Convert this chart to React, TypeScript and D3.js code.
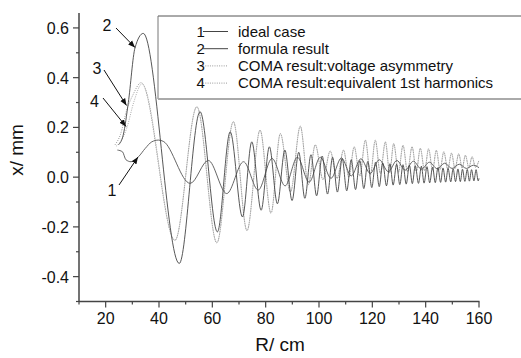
import * as d3 from 'd3';

// R (cm) / x (mm) pairs (extremes plus a few shape points)
const idealCase = [
  [24.4, 0.109], [26.3, 0.102], [27.6, 0.07], [29.5, 0.062], [32.3, 0.082], [34.8, 0.115],
  [37.3, 0.142], [39.8, 0.149], [41.6, 0.144], [51.7, -0.025], [58.5, 0.067], [65.4, -0.066],
  [71.7, 0.062], [77.2, -0.052], [82.4, 0.075], [87.3, -0.035], [91.9, 0.08], [96.3, -0.02],
  [100.5, 0.08], [104.5, -0.005], [108.4, 0.077], [112.1, 0.005], [115.7, 0.074], [119.2, 0.015],
  [122.6, 0.07], [126.0, 0.022], [129.2, 0.067], [132.3, 0.028], [135.4, 0.064], [138.4, 0.032],
  [141.4, 0.06], [144.3, 0.034], [147.1, 0.056], [149.9, 0.035], [152.6, 0.052], [155.3, 0.035],
  [157.9, 0.048], [160.0, 0.038],
];

const formulaResult = [
  [24.8, 0.13], [26.6, 0.17], [28.5, 0.3], [31.0, 0.52], [34.1, 0.578], [47.6, -0.347],
  [55.4, 0.263], [61.9, -0.22], [66.7, 0.182], [71.3, -0.16], [74.8, 0.142], [78.3, -0.133],
  [81.4, 0.122], [84.4, -0.107], [87.2, 0.109], [89.9, -0.094], [92.4, 0.1], [94.7, -0.085],
  [97.0, 0.09], [99.1, -0.075], [101.2, 0.085], [103.2, -0.068], [105.1, 0.08], [106.9, -0.06],
  [108.7, 0.075], [110.4, -0.055], [112.1, 0.07], [113.7, -0.05], [115.3, 0.066], [116.8, -0.046],
  [118.3, 0.063], [119.8, -0.042], [121.2, 0.06], [122.6, -0.038], [123.9, 0.057], [125.3, -0.035],
  [126.6, 0.054], [127.8, -0.032], [129.1, 0.052], [130.3, -0.03], [131.5, 0.05], [132.7, -0.028],
  [133.9, 0.048], [135.0, -0.026], [136.1, 0.046], [137.3, -0.025], [138.4, 0.044], [139.4, -0.024],
  [140.5, 0.042], [141.5, -0.023], [142.6, 0.04], [143.6, -0.022], [144.6, 0.038], [145.6, -0.021],
  [146.5, 0.037], [147.5, -0.02], [148.4, 0.035], [149.4, -0.019], [150.3, 0.034], [151.2, -0.018],
  [152.1, 0.033], [153.0, -0.018], [153.8, 0.032], [154.7, -0.017], [155.6, 0.031], [156.4, -0.016],
  [157.2, 0.03], [158.1, -0.015], [158.9, 0.03], [159.7, -0.015], [160.0, -0.005],
];

const comaVoltage = [
  [23.5, 0.13], [25.5, 0.17], [27.9, 0.27], [30.2, 0.33], [33.3, 0.38], [46.0, -0.254],
  [54.2, 0.283], [61.7, -0.264], [67.9, 0.223], [73.0, -0.215], [77.9, 0.189], [82.0, -0.145],
  [85.5, 0.175], [89.3, -0.06], [93.0, 0.205], [96.0, -0.03], [98.6, 0.13], [101.5, -0.01],
  [104.2, 0.105], [106.8, -0.005], [109.2, 0.109], [111.2, 0.0], [113.2, 0.122], [115.3, 0.005],
  [117.4, 0.149], [119.3, 0.01], [121.1, 0.149], [123.0, 0.015], [124.9, 0.142], [126.5, 0.018],
  [128.0, 0.135], [129.8, 0.02], [131.5, 0.128], [133.2, 0.022], [134.9, 0.122], [136.5, 0.024],
  [138.0, 0.116], [139.6, 0.026], [141.1, 0.114], [142.6, 0.028], [144.0, 0.108], [145.4, 0.03],
  [146.8, 0.102], [148.3, 0.032], [149.7, 0.097], [151.0, 0.034], [152.4, 0.094], [153.7, 0.036],
  [154.9, 0.088], [156.2, 0.038], [157.4, 0.082], [158.7, 0.04], [159.9, 0.065],
];

// curve 4 only separates from curve 3 on the rising start
const comaHarmonicsHead = [
  [24.0, 0.125], [26.0, 0.15], [28.0, 0.2], [30.5, 0.3], [33.6, 0.375],
];
const comaHarmonics = comaHarmonicsHead.concat(comaVoltage.filter(d => d[0] >= 46));

const xTicks = [20, 40, 60, 80, 100, 120, 140, 160];
const xMinor = [10, 30, 50, 70, 90, 110, 130, 150];
const yTicks = [-0.4, -0.2, 0.0, 0.2, 0.4, 0.6];
const yMinor = [-0.5, -0.3, -0.1, 0.1, 0.3, 0.5];

const legendItems = [
  { num: '1', label: 'ideal case', dotted: false },
  { num: '2', label: 'formula result', dotted: false },
  { num: '3', label: 'COMA result:voltage asymmetry', dotted: true },
  { num: '4', label: 'COMA result:equivalent 1st harmonics', dotted: true },
];

const W = 521;
const H = 358;
const font = '"Liberation Sans", Arial, sans-serif';
const axisColor = '#444';

export default function App() {
  const x = d3.scaleLinear().domain([10, 160]).range([79, 479]);
  const y = d3.scaleLinear().domain([-0.5, 0.66]).range([301.5, 13]);

  const line = d3.line()
    .x(d => x(d[0]))
    .y(d => y(d[1]))
    .curve(d3.curveMonotoneX);

  const x0 = x(10);
  const yBase = y(-0.5);

  return (
    <div style={{ position: 'fixed', left: 0, top: 0, background: '#fff' }}>
      <svg width={W} height={H} style={{ display: 'block', fontFamily: font }}>
        <defs>
          <marker id="arr" viewBox="0 0 10 10" refX="10" refY="5" markerWidth="7" markerHeight="7"
            orient="auto" markerUnits="userSpaceOnUse">
            <path d="M0,1 L10,5 L0,9 Z" fill="#111" />
          </marker>
        </defs>
        <rect width={W} height={H} fill="#fff" />

        {/* curves */}
        <path d={line(comaHarmonics)} fill="none" stroke="#aaa" strokeWidth={1} strokeDasharray="1 1.3" />
        <path d={line(comaVoltage)} fill="none" stroke="#999" strokeWidth={1} strokeDasharray="1 1.3" />
        <path d={line(idealCase)} fill="none" stroke="#555" strokeWidth={0.9} />
        <path d={line(formulaResult)} fill="none" stroke="#444" strokeWidth={0.9} />

        {/* axes */}
        <line x1={x0} x2={x0} y1={13} y2={yBase + 0.5} stroke={axisColor} strokeWidth={1.5} />
        <line x1={x0} x2={x(160) + 0.5} y1={yBase} y2={yBase} stroke={axisColor} strokeWidth={1.5} />
        {yTicks.map(t => (
          <g key={'y' + t}>
            <line x1={x0 - 6} x2={x0} y1={y(t)} y2={y(t)} stroke={axisColor} strokeWidth={1.2} />
            <text x={x0 - 10} y={y(t) + 6} textAnchor="end" fontSize={16} fill="#111">{t.toFixed(1)}</text>
          </g>
        ))}
        {yMinor.map(t => (
          <line key={'ym' + t} x1={x0 - 3} x2={x0} y1={y(t)} y2={y(t)} stroke={axisColor} strokeWidth={1.2} />
        ))}
        {xTicks.map(t => (
          <g key={'x' + t}>
            <line x1={x(t)} x2={x(t)} y1={yBase} y2={yBase + 6} stroke={axisColor} strokeWidth={1.2} />
            <text x={x(t)} y={yBase + 22} textAnchor="middle" fontSize={16} fill="#111">{t}</text>
          </g>
        ))}
        {xMinor.map(t => (
          <line key={'xm' + t} x1={x(t)} x2={x(t)} y1={yBase} y2={yBase + 3} stroke={axisColor} strokeWidth={1.2} />
        ))}
        <text transform="translate(23,150) rotate(-90)" textAnchor="middle" fontSize={19} fill="#111">x/ mm</text>
        <text x={280} y={351} textAnchor="middle" fontSize={19} fill="#111">R/ cm</text>

        {/* legend */}
        <line x1={158} x2={W} y1={16} y2={16} stroke="#555" strokeWidth={1} />
        <line x1={158} x2={158} y1={16} y2={99} stroke="#777" strokeWidth={1} />
        <line x1={158} x2={W} y1={99} y2={99} stroke="#aaa" strokeWidth={2} />
        {legendItems.map((it, i) => {
          const by = 36.5 + i * 17.2;
          return (
            <g key={it.num}>
              <text x={196.5} y={by} fontSize={15} fill="#111">{it.num}</text>
              <line x1={203} x2={228} y1={by - 5} y2={by - 5}
                stroke={it.dotted ? '#999' : '#444'} strokeWidth={1}
                strokeDasharray={it.dotted ? '1 1.3' : undefined} />
              <text x={238} y={by} fontSize={15} fill="#111">{it.label}</text>
            </g>
          );
        })}

        {/* curve annotations */}
        <text x={107} y={31} textAnchor="middle" fontSize={16} fill="#111">2</text>
        <line x1={116} y1={28} x2={135} y2={47.5} stroke="#111" strokeWidth={1} markerEnd="url(#arr)" />
        <text x={97} y={74} textAnchor="middle" fontSize={16} fill="#111">3</text>
        <line x1={104} y1={70} x2={126.5} y2={105.5} stroke="#111" strokeWidth={1} markerEnd="url(#arr)" />
        <text x={94.5} y={107} textAnchor="middle" fontSize={16} fill="#111">4</text>
        <line x1={103} y1={98} x2={126} y2={126.5} stroke="#111" strokeWidth={1} markerEnd="url(#arr)" />
        <text x={112} y={196} textAnchor="middle" fontSize={16} fill="#111">1</text>
        <line x1={119} y1={185} x2={138} y2={157} stroke="#111" strokeWidth={1} markerEnd="url(#arr)" />
      </svg>
    </div>
  );
}
